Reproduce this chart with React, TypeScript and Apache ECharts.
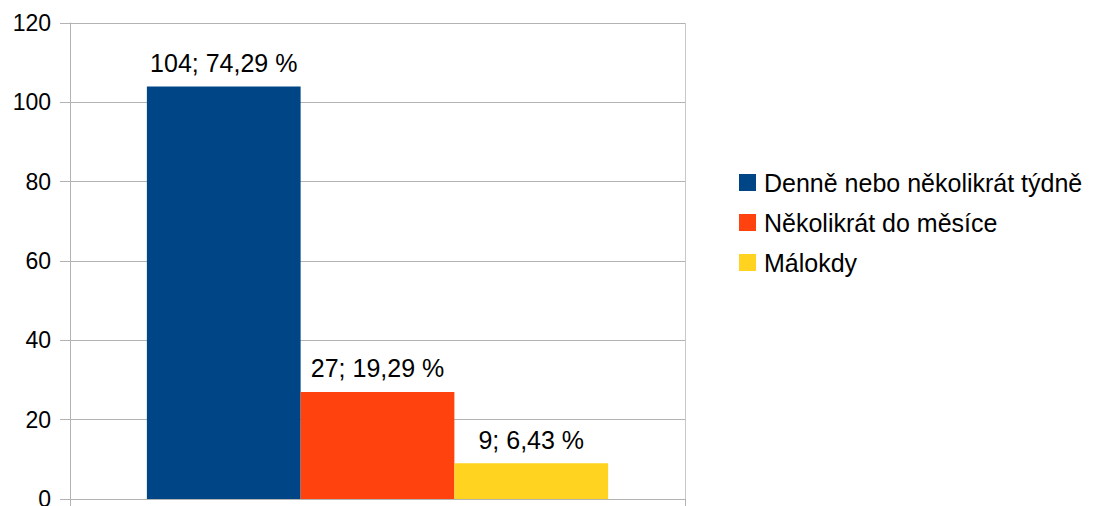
import React, { useEffect, useRef } from "react";
import * as echarts from "echarts";

const categories = [""];
const seriesNames = ["Denně nebo několikrát týdně", "Několikrát do měsíce", "Málokdy"];
const seriesValues = [104, 27, 9];
const seriesPercents = ["74,29 %", "19,29 %", "6,43 %"];
const seriesColors = ["#004586", "#ff420e", "#ffd320"];
const yTicks = { min: 0, max: 120, interval: 20 };

const FONT = "Liberation Sans, Arial, sans-serif";

export default function App() {
  const ref = useRef<HTMLDivElement>(null);
  useEffect(() => {
    if (!ref.current) return;
    const chart = echarts.init(ref.current, null, { renderer: "svg" });
    chart.setOption({
      animation: false,
      backgroundColor: "#ffffff",
      grid: { left: 70, right: 410, top: 23, bottom: 7, containLabel: false, outerBoundsMode: "none" },
      legend: {
        orient: "vertical",
        left: 734,
        top: 165,
        itemWidth: 17,
        itemHeight: 17,
        itemGap: 15,
        icon: "rect",
        data: seriesNames,
        textStyle: { fontFamily: FONT, fontSize: 25, color: "#000", lineHeight: 25, padding: [0, 0, 0, 3] },
      },
      xAxis: {
        type: "category",
        data: categories,
        boundaryGap: true,
        axisLine: { show: true, lineStyle: { color: "#b3b3b3", width: 1 } },
        axisTick: { show: true, length: 7, inside: false, lineStyle: { color: "#b3b3b3" } },
        axisLabel: { show: false },
        splitLine: { show: true, lineStyle: { color: "#c8c8c8", width: 1 } },
      },
      yAxis: {
        type: "value",
        min: yTicks.min,
        max: yTicks.max,
        interval: yTicks.interval,
        axisLine: { show: true, lineStyle: { color: "#b3b3b3", width: 1 } },
        axisTick: { show: true, length: 10, lineStyle: { color: "#b3b3b3" } },
        axisLabel: { fontFamily: FONT, fontSize: 23, color: "#000", margin: 19 },
        splitLine: { show: true, lineStyle: { color: "#b3b3b3", width: 1 } },
      },
      series: seriesNames.map((name, i) => ({
        type: "bar",
        name,
        data: [seriesValues[i]],
        barGap: "0%",
        barCategoryGap: "25%",
        itemStyle: { color: seriesColors[i] },
        label: {
          show: true,
          position: "top",
          distance: 11,
          fontFamily: FONT,
          fontSize: 25,
          color: "#000",
          formatter: () => `${seriesValues[i]}; ${seriesPercents[i]}`,
        },
      })),
    });
    return () => chart.dispose();
  }, []);
  return (
    <div
      ref={ref}
      style={{ position: "fixed", left: 0, top: 0, width: 1095, height: 506, background: "#fff" }}
    />
  );
}
